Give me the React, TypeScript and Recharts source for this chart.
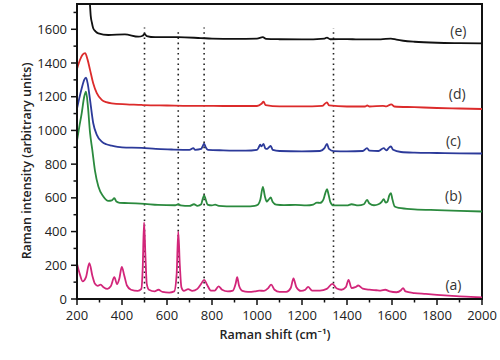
import React from 'react';
import { LineChart, Line, XAxis, YAxis, ReferenceLine, ReferenceArea, ReferenceDot, Label } from 'recharts';

// Raman spectra, [shift cm-1, intensity]
const spectrumA: [number, number][] = [
  [200, 210], [212, 150], [225, 105], [240, 130], [255, 213], [268, 140], [280, 90], [292, 78],
  [305, 85], [318, 70], [335, 60], [350, 75], [366, 130], [378, 88], [388, 120], [399, 190],
  [410, 140], [422, 80], [440, 55], [470, 48], [486, 60], [492, 180], [498, 454], [504, 260],
  [510, 90], [520, 55], [545, 45], [562, 55], [580, 42], [610, 38], [632, 45], [643, 150],
  [650, 400], [657, 200], [664, 70], [675, 48], [694, 58], [712, 48], [735, 60], [752, 90],
  [765, 114], [778, 85], [795, 50], [812, 50], [829, 75], [845, 55], [870, 45], [893, 50],
  [905, 90], [912, 130], [920, 80], [935, 48], [960, 42], [990, 45], [1010, 50], [1030, 48],
  [1050, 65], [1063, 85], [1078, 55], [1100, 42], [1130, 42], [1150, 65], [1162, 122], [1175, 70],
  [1195, 48], [1215, 55], [1227, 72], [1245, 50], [1280, 50], [1310, 60], [1335, 90], [1355, 62],
  [1375, 55], [1395, 70], [1407, 114], [1420, 65], [1437, 70], [1450, 80], [1470, 62], [1500, 55],
  [1530, 52], [1550, 50], [1570, 55], [1590, 45], [1620, 40], [1640, 52], [1649, 65], [1660, 45],
  [1700, 35], [1750, 30], [1800, 25], [1850, 20], [1900, 15], [1950, 13], [2000, 10],
];

const spectrumB: [number, number][] = [
  [200, 940], [210, 1020], [221, 1103], [232, 1200], [240, 1230], [248, 1150], [258, 985], [268, 885],
  [280, 760], [295, 667], [317, 608], [339, 582], [355, 585], [366, 598], [375, 578], [390, 570],
  [428, 569], [502, 564], [560, 558], [636, 556], [651, 563], [660, 555], [700, 552], [720, 562],
  [735, 553], [752, 562], [758, 590], [765, 615], [772, 590], [780, 560], [800, 555], [814, 560],
  [830, 553], [900, 550], [950, 550], [990, 553], [1005, 560], [1015, 590], [1026, 665], [1035, 610],
  [1043, 578], [1052, 590], [1061, 602], [1070, 575], [1085, 560], [1120, 557], [1170, 558], [1220, 555],
  [1250, 560], [1266, 572], [1280, 570], [1295, 590], [1303, 625], [1311, 652], [1318, 620], [1326, 575],
  [1340, 555], [1400, 555], [1420, 562], [1450, 555], [1475, 562], [1489, 588], [1500, 566], [1520, 556],
  [1540, 562], [1555, 578], [1563, 593], [1572, 572], [1580, 578], [1588, 615], [1595, 628], [1602, 590],
  [1612, 548], [1630, 540], [1700, 532], [1800, 527], [1900, 523], [2000, 519],
];

const spectrumC: [number, number][] = [
  [200, 1130], [210, 1190], [221, 1250], [232, 1300], [240, 1313], [248, 1275], [258, 1181], [272, 1044],
  [288, 974], [310, 934], [330, 918], [354, 910], [400, 900], [488, 897], [550, 890], [620, 887],
  [700, 885], [717, 895], [725, 885], [752, 890], [758, 905], [765, 922], [772, 900], [782, 885],
  [850, 882], [950, 880], [1000, 885], [1008, 900], [1014, 915], [1020, 905], [1029, 920], [1037, 893],
  [1045, 890], [1053, 900], [1061, 908], [1070, 885], [1100, 878], [1200, 876], [1280, 878], [1300, 895],
  [1311, 920], [1320, 890], [1340, 877], [1400, 876], [1470, 878], [1489, 895], [1500, 880], [1540, 878],
  [1563, 895], [1575, 882], [1587, 898], [1595, 905], [1605, 885], [1640, 872], [1700, 868], [1800, 866],
  [1900, 864], [2000, 863],
];

const spectrumD: [number, number][] = [
  [200, 1365], [213, 1418], [225, 1450], [236, 1458], [247, 1420], [258, 1359], [272, 1280], [288, 1221],
  [310, 1181], [330, 1168], [354, 1161], [420, 1155], [488, 1151], [500, 1150], [600, 1148], [700, 1146],
  [765, 1146], [850, 1145], [1000, 1145], [1020, 1158], [1029, 1170], [1038, 1150], [1100, 1143], [1200, 1143],
  [1290, 1146], [1303, 1160], [1311, 1166], [1320, 1148], [1400, 1142], [1480, 1142], [1490, 1148], [1500, 1142],
  [1560, 1146], [1575, 1143], [1590, 1152], [1597, 1155], [1610, 1142], [1700, 1138], [1800, 1133], [1900, 1130],
  [2000, 1127],
];

const spectrumE: [number, number][] = [
  [200, 2400], [230, 2100], [250, 1900], [257, 1760], [261, 1680], [266, 1640], [272, 1606], [282, 1588],
  [295, 1576], [339, 1566], [413, 1570], [473, 1556], [492, 1562], [500, 1572], [510, 1560], [547, 1553],
  [649, 1553], [750, 1548], [800, 1545], [900, 1543], [1000, 1545], [1026, 1553], [1040, 1543], [1100, 1541],
  [1200, 1540], [1300, 1545], [1311, 1551], [1325, 1541], [1400, 1542], [1450, 1540], [1550, 1540], [1595, 1545],
  [1620, 1538], [1650, 1532], [1700, 1526], [1800, 1520], [1900, 1518], [2000, 1517],
];

const markerShifts = [500, 650, 765, 1340];
const markerTops = [1610, 1590, 1610, 1606];

const xTicks = [200, 300, 400, 500, 600, 700, 800, 900, 1000, 1100, 1200, 1300, 1400, 1500, 1600, 1700, 1800, 1900, 2000];
const yTicks = [0, 100, 200, 300, 400, 500, 600, 700, 800, 900, 1000, 1100, 1200, 1300, 1400, 1500, 1600, 1700];

const seriesLabels = ['(a)', '(b)', '(c)', '(d)', '(e)'];
const labelAnchors: [number, number][] = [[1873, 85], [1873, 612], [1873, 938], [1890, 1217], [1895, 1592]];

const COLORS = ['#d2267a', '#2b8a3e', '#2c3a9a', '#dc2b2b', '#111111'];
const FONT = '"Open Sans", "Noto Sans", sans-serif';

const toPoints = (s: [number, number][]) => s.map(([x, y]) => ({ x, y }));
const allSeries = [spectrumA, spectrumB, spectrumC, spectrumD, spectrumE].map(toPoints);

const XTick = (props: any) => {
  const { x, y, payload } = props;
  const major = payload.value % 200 === 0;
  return (
    <g>
      <line x1={x} x2={x} y1={y} y2={y + (major ? 6 : 3.5)} stroke="#111" strokeWidth={1.5} />
      {major && (
        <text x={x} y={y + 21} textAnchor="middle" fontSize={13} fill="#222" fontFamily={FONT}>
          {payload.value}
        </text>
      )}
    </g>
  );
};

const YTick = (props: any) => {
  const { x, y, payload } = props;
  const major = payload.value % 200 === 0;
  return (
    <g>
      <line x1={x} x2={x - (major ? 6 : 3.5)} y1={y} y2={y} stroke="#111" strokeWidth={1.5} />
      {major && (
        <text x={x - 10} y={y + 4.5} textAnchor="end" fontSize={13} fill="#222" fontFamily={FONT}>
          {payload.value}
        </text>
      )}
    </g>
  );
};

export default function App() {
  return (
    <div style={{ position: 'absolute', left: 0, top: 0, width: 500, height: 360, background: '#fff' }}>
      <LineChart width={500} height={360} margin={{ top: 4, right: 18, bottom: 0, left: 0 }}>
        <XAxis
          type="number"
          dataKey="x"
          domain={[200, 2000]}
          allowDataOverflow
          ticks={xTicks}
          interval={0}
          tick={<XTick />}
          tickLine={false}
          tickSize={0}
          tickMargin={0}
          height={61}
          axisLine={{ stroke: '#111', strokeWidth: 2 }}
        >
          <Label
            content={() => (
              <text x={275} y={339} textAnchor="middle" fontSize={12.5} fontWeight={600} fill="#222" fontFamily={FONT}>
                Raman shift (cm⁻¹)
              </text>
            )}
          />
        </XAxis>
        <YAxis
          type="number"
          domain={[0, 1750]}
          allowDataOverflow
          ticks={yTicks}
          interval={0}
          tick={<YTick />}
          tickLine={false}
          tickSize={0}
          tickMargin={0}
          width={77}
          axisLine={{ stroke: '#111', strokeWidth: 2 }}
        >
          <Label
            content={() => (
              <text x={31} y={161} transform="rotate(-90 31 161)" textAnchor="middle" fontSize={12.5} fontWeight={600} fill="#222" fontFamily={FONT}>
                Raman intensity (arbitrary units)
              </text>
            )}
          />
        </YAxis>
        <ReferenceArea x1={200} x2={2000} y1={0} y2={1750} fill="none" stroke="#111" strokeWidth={2} />
        {markerShifts.map((s, i) => (
          <ReferenceLine
            key={`m-${s}`}
            segment={[{ x: s, y: 0 }, { x: s, y: markerTops[i] }]}
            stroke="#222"
            strokeWidth={1.6}
            strokeDasharray="1.6 3.6"
          />
        ))}
        {allSeries.map((pts, i) => (
          <Line
            key={seriesLabels[i]}
            data={pts}
            dataKey="y"
            type="monotone"
            stroke={COLORS[i]}
            strokeWidth={1.8}
            dot={false}
            isAnimationActive={false}
          />
        ))}
        {seriesLabels.map((lab, i) => (
          <ReferenceDot
            key={`l-${lab}`}
            x={labelAnchors[i][0]}
            y={labelAnchors[i][1]}
            r={0}
            fill="none"
            stroke="none"
            label={{ value: lab, position: 'center', fontSize: 14, fill: '#333', fontFamily: FONT }}
          />
        ))}
      </LineChart>
    </div>
  );
}
